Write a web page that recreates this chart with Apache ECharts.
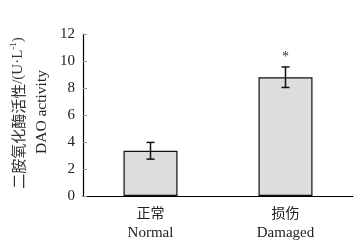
<!DOCTYPE html>
<html><head><meta charset="utf-8">
<script src="https://cdn.jsdelivr.net/npm/echarts@6/dist/echarts.min.js"></script>
<style>html,body{margin:0;padding:0;background:#fff}#c{width:363px;height:248px}</style>
</head><body><div id="c"></div>
<script>
const categoriesCn = ['正常', '损伤'];
const categoriesEn = ['Normal', 'Damaged'];
const means = [3.35, 8.8];
const errors = [0.62, 0.76];
const marks = ['', '*'];
const yTicks = [0, 2, 4, 6, 8, 10, 12];

const chart = echarts.init(document.getElementById('c'));
const serif = '"Liberation Serif","Times New Roman",serif';
const cjk = '"Noto Sans CJK SC",sans-serif';
chart.setOption({
  animation: false,
  grid: {left: 83, right: 10, top: 34, bottom: 52},
  xAxis: {
    type: 'category',
    data: categoriesCn.map((c, i) => c + '\n' + categoriesEn[i]),
    axisLine: {lineStyle: {color: '#000', width: 1.2}},
    axisTick: {inside: true, length: 4, lineStyle: {color: '#000'}},
    axisLabel: {
      margin: 7,
      formatter: v => { const p = v.split('\n'); return '{cn|' + p[0] + '}\n{en|' + p[1] + '}'; },
      rich: {
        cn: {fontFamily: cjk, fontSize: 14, color: '#222', lineHeight: 20},
        en: {fontFamily: serif, fontSize: 15, color: '#222', lineHeight: 20}
      }
    }
  },
  yAxis: {
    type: 'value', min: yTicks[0], max: yTicks[yTicks.length - 1], interval: 2,
    axisLine: {show: true, lineStyle: {color: '#000', width: 1.2}},
    axisTick: {show: true, inside: true, length: 4, lineStyle: {color: '#999'}},
    splitLine: {show: false},
    axisLabel: {fontFamily: serif, fontSize: 15, color: '#222', margin: 8}
  },
  graphic: [
    {type: 'text', rotation: Math.PI / 2, x: 18, y: 113,
     style: {text: '{cn|二胺氧化酶活性}{en|/(U·L}{sup|-1}{en|)}', textAlign: 'center', textVerticalAlign: 'middle',
       rich: {
         cn: {fontFamily: cjk, fontSize: 15, fill: '#333'},
         en: {fontFamily: serif, fontSize: 15, fill: '#333'},
         sup: {fontFamily: serif, fontSize: 9, fill: '#333', verticalAlign: 'top', padding: [0, 0, 8, 0]}
       }}},
    {type: 'text', rotation: Math.PI / 2, x: 42, y: 112,
     style: {text: 'DAO activity', font: '15.5px ' + serif, fill: '#222', textAlign: 'center', textVerticalAlign: 'middle'}}
  ],
  series: [
    {
      type: 'bar', data: means, barWidth: '40%',
      itemStyle: {color: '#dcdddd', borderColor: '#111', borderWidth: 1.2}
    },
    {
      type: 'custom', z: 10,
      data: means.map((m, i) => [i, m - errors[i], m + errors[i], marks[i]]),
      renderItem: (params, api) => {
        const lo = api.coord([api.value(0), api.value(1)]);
        const hi = api.coord([api.value(0), api.value(2)]);
        const w = 4;
        const style = {stroke: '#111', lineWidth: 1.5};
        const children = [
          {type: 'line', shape: {x1: lo[0], y1: lo[1], x2: hi[0], y2: hi[1]}, style},
          {type: 'line', shape: {x1: lo[0] - w, y1: lo[1], x2: lo[0] + w, y2: lo[1]}, style},
          {type: 'line', shape: {x1: hi[0] - w, y1: hi[1], x2: hi[0] + w, y2: hi[1]}, style}
        ];
        const mk = api.value(3);
        if (mk) children.push({type: 'text', x: hi[0], y: hi[1] - 3,
          style: {text: mk, font: '14px ' + serif, fill: '#333', textAlign: 'center', textVerticalAlign: 'bottom'}});
        return {type: 'group', children};
      },
      dimensions: ['x', 'lo', 'hi', {name: 'mark', type: 'ordinal'}],
      encode: {x: 0, y: [1, 2]}
    }
  ]
});
</script></body></html>
